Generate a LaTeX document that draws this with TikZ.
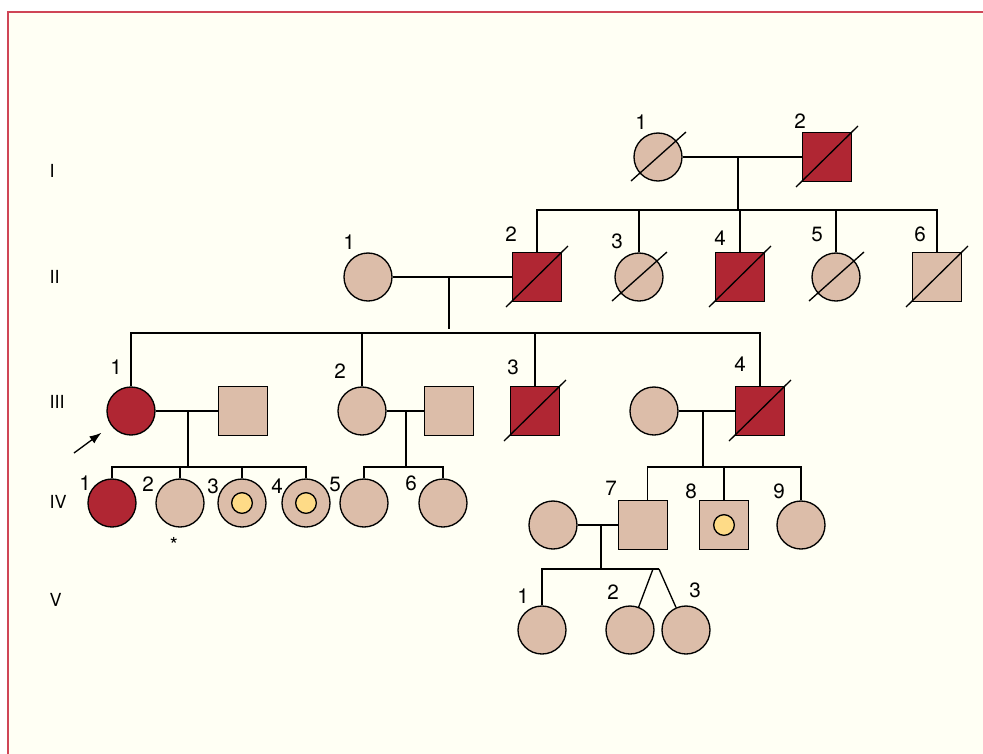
\documentclass[tikz,border=0pt]{standalone}
\usepackage{fontspec}
\setmainfont{TeX Gyre Heros}
\usetikzlibrary{arrows.meta}
\definecolor{skin}{HTML}{DCBDA9}
\definecolor{wine}{HTML}{B02633}
\definecolor{carrier}{HTML}{FEDB87}
\definecolor{paper}{HTML}{FFFFF4}
\definecolor{frame}{HTML}{CF4556}

\begin{document}
\begin{tikzpicture}[x=0.75pt,y=0.75pt,yscale=-1,xscale=1,
    line width=1pt,
    female/.style={circle,draw,fill=skin,minimum size=36pt,inner sep=0pt},
    male/.style={rectangle,draw,fill=skin,minimum size=37pt,inner sep=0pt},
    affected/.style={fill=wine},
    dot/.style={circle,draw,fill=carrier,minimum size=15.5pt,inner sep=0pt},
    num/.style={inner sep=0pt,font=\fontsize{15.5}{17}\selectfont},
    gen/.style={anchor=west,inner sep=0pt,font=\fontsize{13.5}{15}\selectfont},
    proband/.style={-{Latex[length=9pt,width=6.5pt]},shorten >=9pt}]
    \useasboundingbox (0,0) rectangle (983,754);

    % background and frame
    \fill[paper] (8,12) rectangle (983,754);
    \draw[frame,line width=1.5pt] (8,754) -- (8,12) -- (983,12);

    % generation numbers
    \node[gen] (gI) at (49,171) {I};
    \node[gen] (gII) at (49,277) {II};
    \node[gen] (gIII) at (49,402) {III};
    \node[gen] (gIV) at (49,502) {IV};
    \node[gen] (gV) at (49,600) {V};

    % Generation I
    \node[female] (I1) at (658,157) {};
    \node[male,affected] (I2) at (827,157) {};
    \node[num] (I1n) at (641,122) {1};
    \node[num] (I2n) at (800,121) {2};

    % Generation II
    \node[female] (II1) at (368,277) {};
    \node[male,affected] (II2) at (537,277) {};
    \node[female] (II3) at (639,277) {};
    \node[male,affected] (II4) at (740,277) {};
    \node[female] (II5) at (836,277) {};
    \node[male] (II6) at (937,277) {};
    \node[num] (II1n) at (349,242) {1};
    \node[num] (II2n) at (511,234) {2};
    \node[num] (II3n) at (617,241) {3};
    \node[num] (II4n) at (720,238) {4};
    \node[num] (II5n) at (817,234) {5};
    \node[num] (II6n) at (920,234) {6};

    % Generation III
    \node[female,affected] (III1) at (131,411) {};
    \node[male] (P1) at (243,411) {};
    \node[female] (III2) at (362,411) {};
    \node[male] (P2) at (449,411) {};
    \node[male,affected] (III3) at (535,411) {};
    \node[female] (P4) at (654,411) {};
    \node[male,affected] (III4) at (760,411) {};
    \node[num] (III1n) at (116,367) {1};
    \node[num] (III2n) at (340,371) {2};
    \node[num] (III3n) at (513,367) {3};
    \node[num] (III4n) at (740,364) {4};

    % Generation IV
    \node[female,affected] (IV1) at (112,503) {};
    \node[female] (IV2) at (180,503) {};
    \node[female] (IV3) at (242,503) {};
    \node[female] (IV4) at (306,503) {};
    \node[female] (IV5) at (364,503) {};
    \node[female] (IV6) at (443,503) {};
    \node[female] (P7) at (553,525) {};
    \node[male] (IV7) at (643,525) {};
    \node[male] (IV8) at (724,525) {};
    \node[female] (IV9) at (801,525) {};
    \node[dot] (IV3d) at (IV3) {};
    \node[dot] (IV4d) at (IV4) {};
    \node[dot] (IV8d) at (IV8) {};
    \node[num] (IV1n) at (85,483) {1};
    \node[num] (IV2n) at (148,484) {2};
    \node[num] (IV3n) at (213,486) {3};
    \node[num] (IV4n) at (277,486) {4};
    \node[num] (IV5n) at (335,484) {5};
    \node[num] (IV6n) at (411,483) {6};
    \node[num] (IV7n) at (611,488) {7};
    \node[num] (IV8n) at (691,491) {8};
    \node[num] (IV9n) at (779,491) {9};
    \node[num] (ast) at (174,545) {*};

    % Generation V
    \node[female] (V1) at (542,630) {};
    \node[female] (V2) at (630,630) {};
    \node[female] (V3) at (686,630) {};
    \node[num] (V1n) at (523,596) {1};
    \node[num] (V2n) at (613,592) {2};
    \node[num] (V3n) at (695,590) {3};

    % deceased
    \foreach \n in {I1,II3,II5}
        \draw (\n.center) +(-27,24) -- +(28,-25);
    \foreach \n in {I2,II2,II4,II6,III3,III4}
        \draw (\n.center) +(-31,30) -- +(31,-31);

    % junctions
    \coordinate (mI) at (738,157);
    \coordinate (sI) at (738,210);
    \coordinate (mII) at (449,277);
    \coordinate (dII) at (449,329);
    \coordinate (sII) at (449,333);
    \coordinate (mIII1) at (188,411);
    \coordinate (sIII1) at (188,467);
    \coordinate (mIII2) at (406,411);
    \coordinate (sIII2) at (406,467);
    \coordinate (mIII4) at (703,411);
    \coordinate (sIII4) at (703,467);
    \coordinate (mIV7) at (601,525);
    \coordinate (sIV7) at (601,569);
    \coordinate (tw2) at (653,569);
    \coordinate (tw3) at (659,569);
    \coordinate (pb) at (74,453);

    % I
    \draw (I1) -- (I2);
    \draw (mI) -- (sI);
    \draw (II2.north) |- (sI) -| (II6.north);
    \foreach \n in {II3,II4,II5}
        \draw (\n.north) -- (\n.north |- sI);

    % II
    \draw (II1) -- (II2);
    \draw (mII) -- (dII);
    \draw (III1.north) |- (sII) -| (III4.north);
    \foreach \n in {III2,III3}
        \draw (\n.north) -- (\n.north |- sII);

    % III
    \draw (III1) -- (P1);
    \draw (mIII1) -- (sIII1);
    \draw (IV1.north) |- (sIII1) -| (IV4.north);
    \foreach \n in {IV2,IV3}
        \draw (\n.north) -- (\n.north |- sIII1);
    \draw (III2) -- (P2);
    \draw (mIII2) -- (sIII2);
    \draw (IV5.north) |- (sIII2) -| (IV6.north);
    \draw (P4) -- (III4);
    \draw (mIII4) -- (sIII4);
    \draw ([xshift=3.5pt]IV7.north) |- (sIII4) -| (IV9.north);
    \draw (IV8.north) -- (IV8.north |- sIII4);

    % IV
    \draw (P7) -- (IV7);
    \draw (mIV7) -- (sIV7);
    \draw (V1.north) |- (tw3);
    \draw (tw2) -- (V2);
    \draw (tw3) -- (V3);

    % proband
    \draw[proband] (pb) -- (III1);

\end{tikzpicture}
\end{document}
